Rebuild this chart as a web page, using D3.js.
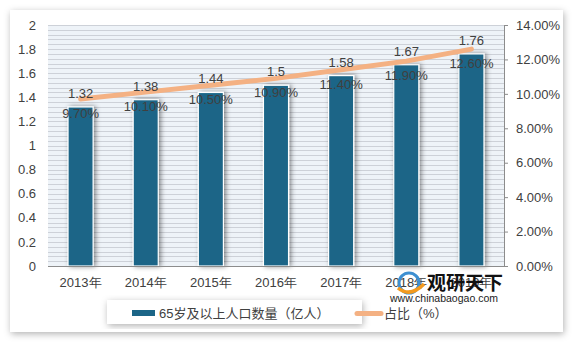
<!DOCTYPE html>
<html><head><meta charset="utf-8">
<script src="https://cdn.jsdelivr.net/npm/d3@7"></script>
<style>
body{margin:0;background:#fff;}
svg{display:block;font-family:"Liberation Sans","Noto Sans CJK SC",sans-serif;}
</style></head>
<body>
<svg id="c" width="579" height="345"></svg>
<script>
const years = ["2013年","2014年","2015年","2016年","2017年","2018年","2019年"];
const population = [1.32,1.38,1.44,1.5,1.58,1.67,1.76];
const share = [9.7,10.1,10.5,10.9,11.4,11.9,12.6];
const leftTicks = [0,0.2,0.4,0.6,0.8,1,1.2,1.4,1.6,1.8,2];
const rightTicks = [0,2,4,6,8,10,12,14];
const legendLabels = ["65岁及以上人口数量（亿人）","占比（%）"];

const svg = d3.select("#c");
const defs = svg.append("defs");
const f = defs.append("filter").attr("id","sh").attr("x","-20%").attr("y","-20%").attr("width","140%").attr("height","140%");
f.append("feDropShadow").attr("dx",1).attr("dy",2).attr("stdDeviation",3.5).attr("flood-color","#000").attr("flood-opacity",0.3);
const fb = defs.append("filter").attr("id","bsh").attr("x","-50%").attr("y","-10%").attr("width","200%").attr("height","120%");
fb.append("feDropShadow").attr("dx",2).attr("dy",0).attr("stdDeviation",2.5).attr("flood-color","#000").attr("flood-opacity",0.45);

// card
svg.append("rect").attr("x",10).attr("y",10).attr("width",553).attr("height",322).attr("fill","#fff").attr("filter","url(#sh)");

const L=48, R=504, T=25, B=266;
const x = d3.scaleBand().domain(years).range([L,R]).paddingInner(0.615).paddingOuter(0.3075);
const y = d3.scaleLinear().domain([0,2]).range([B,T]);
const y2 = d3.scaleLinear().domain([0,14]).range([B,T]);

// plot background with fine stripes
svg.append("rect").attr("x",L).attr("y",T).attr("width",R-L).attr("height",B-T).attr("fill","#eef3f8");
const minor = d3.range(0,2.0001,0.04);
svg.append("g").selectAll("line").data(minor).join("line")
  .attr("x1",L).attr("x2",R).attr("y1",d=>Math.round(y(d))+0.5).attr("y2",d=>Math.round(y(d))+0.5)
  .attr("stroke","#cdd1d8").attr("stroke-width",1);

// bars
svg.append("g").selectAll("rect").data(population).join("rect")
  .attr("x",(d,i)=>x(years[i])).attr("y",d=>y(d)).attr("width",x.bandwidth()).attr("height",d=>B-y(d))
  .attr("fill","#1b6587").attr("stroke","#fff").attr("stroke-width",1.2).attr("filter","url(#bsh)");

// bottom axis line
svg.append("line").attr("x1",L).attr("x2",R).attr("y1",B+0.5).attr("y2",B+0.5).attr("stroke","#8c8c8c").attr("stroke-width",1.2);

// left axis
const ga = svg.append("g").attr("transform",`translate(${L},0)`).call(d3.axisLeft(y).tickValues(leftTicks).tickFormat(d=>String(d)).tickSize(0).tickPadding(12));
ga.select(".domain").remove();
ga.selectAll("text").attr("font-size",13).attr("fill","#404040").attr("font-family","Liberation Sans, sans-serif");

// right axis
const gr = svg.append("g").attr("transform",`translate(${R},0)`).call(d3.axisRight(y2).tickValues(rightTicks).tickFormat(d=>d.toFixed(2)+"%").tickSize(4).tickPadding(8));
gr.select(".domain").attr("stroke","#8c8c8c");
gr.selectAll(".tick line").attr("stroke","#8c8c8c");
gr.selectAll("text").attr("font-size",13).attr("fill","#404040").attr("font-family","Liberation Sans, sans-serif");

// x axis labels
const gx = svg.append("g").attr("transform",`translate(0,${B})`).call(d3.axisBottom(x).tickSize(0).tickPadding(12));
gx.select(".domain").remove();
gx.selectAll("text").attr("font-size",13).attr("fill","#404040");

// line
const cx = i => x(years[i]) + x.bandwidth()/2;
svg.append("path").datum(share)
  .attr("d", d3.line().x((d,i)=>cx(i)).y(d=>y2(d)))
  .attr("fill","none").attr("stroke","#f4b183").attr("stroke-width",5).attr("stroke-linecap","round");

// data labels
svg.append("g").selectAll("text").data(population).join("text")
  .attr("x",(d,i)=>cx(i)).attr("y",d=>y(d)-9).attr("text-anchor","middle")
  .attr("font-size",13).attr("fill","#404040").text(d=>String(d));
svg.append("g").selectAll("text").data(share).join("text")
  .attr("x",(d,i)=>cx(i)).attr("y",d=>y2(d)+19).attr("text-anchor","middle")
  .attr("font-size",13).attr("fill","#404040").text(d=>d.toFixed(2)+"%");

// legend
svg.append("rect").attr("x",107).attr("y",300).attr("width",255).attr("height",24).attr("fill","#fff").attr("filter","url(#sh)");
svg.append("rect").attr("x",132).attr("y",310).attr("width",23).attr("height",6).attr("fill","#1b6587");
svg.append("text").attr("x",159).attr("y",317.5).attr("font-size",13).attr("fill","#404040").text(legendLabels[0]);
svg.append("line").attr("x1",357).attr("x2",381).attr("y1",313.5).attr("y2",313.5).attr("stroke","#f4b183").attr("stroke-width",5).attr("stroke-linecap","round");
svg.append("text").attr("x",384).attr("y",317.5).attr("font-size",13).attr("fill","#404040").text(legendLabels[1]);

// watermark
const wm = svg.append("g");
wm.append("circle").attr("cx",409).attr("cy",283).attr("r",10).attr("fill","none").attr("stroke","#3d8fd1").attr("stroke-width",3);
wm.append("path").attr("d","M398,288 Q410,298 424,284").attr("fill","none").attr("stroke","#f39a1e").attr("stroke-width",3.5);
wm.append("text").attr("x",427).attr("y",290).attr("font-size",19).attr("font-weight","bold").attr("fill","#111").attr("font-family","Noto Sans CJK SC").text("观研天下");
wm.append("text").attr("x",390).attr("y",302).attr("font-size",10.5).attr("fill","#222").text("www.chinabaogao.com");
</script>
</body></html>
